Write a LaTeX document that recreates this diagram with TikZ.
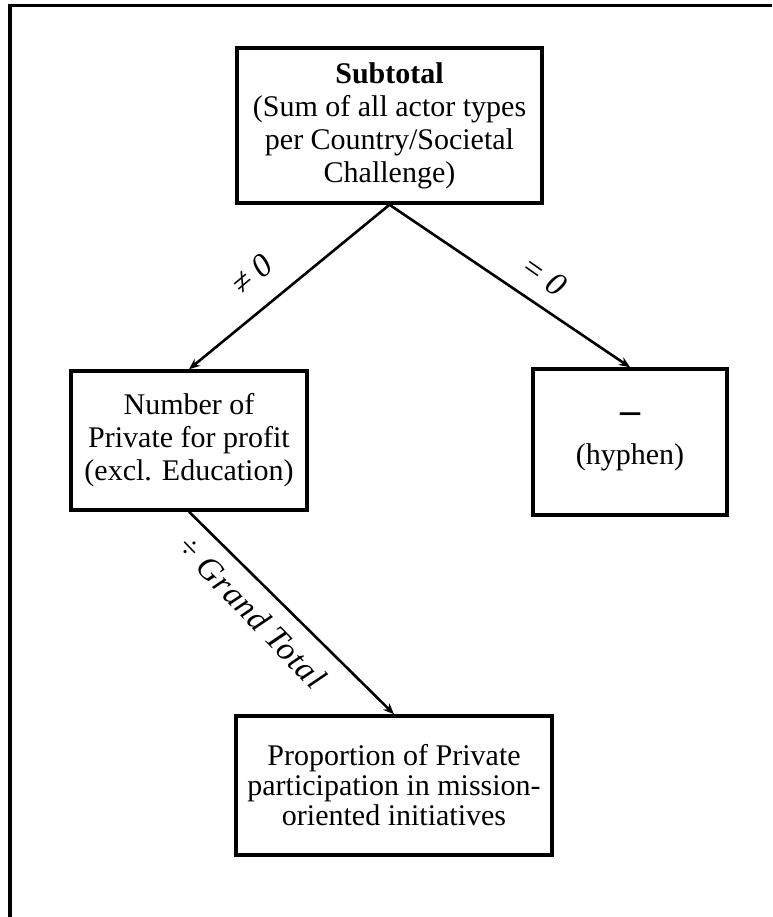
\documentclass[tikz,border=0pt]{standalone}
\usepackage{fontspec}
\setmainfont{Liberation Serif}
\usetikzlibrary{arrows.meta}
\tikzset{
  box/.style={draw=black, line width=3.5pt, align=center, inner sep=0pt,
    font=\fontsize{30}{33}\selectfont},
  conn/.style={line width=2.6pt, -{Stealth[length=11pt,width=9pt]}},
  lbl/.style={font=\fontsize{33}{33}\selectfont\itshape, inner sep=0pt}
}
\begin{document}
\begin{tikzpicture}[x=1pt,y=1pt]
\useasboundingbox (0,0) rectangle (772,-917);
\fill[white] (0,0) rectangle (772,-917);
% frame
\draw[line width=3.5pt] (772,-5.5) -- (10,-5.5) -- (10,-917);
% nodes
\node[box, minimum width=305pt, minimum height=155pt] (top) at (389.5,-125.5)
  {\textbf{Subtotal}\\(Sum of all actor types\\per Country/Societal\\Challenge)};
\node[box, minimum width=236pt, minimum height=139pt] (left) at (189,-440.5)
  {Number of\\Private for profit\\(excl. Education)};
\node[box, minimum width=194pt, minimum height=146pt] (right) at (630,-442)
  {{\fontsize{40}{33}\selectfont\bfseries –}\\[8pt](hyphen)};
\node[box, minimum width=316pt, minimum height=139pt, font=\fontsize{30}{30}\selectfont] (bottom) at (394,-785.5)
  {Proportion of Private\\participation in mission-\\oriented initiatives};
% connectors
\draw[conn] (top.south) -- (left.north);
\draw[conn] (top.south) -- (right.north);
\draw[conn] (left.south) -- (bottom.north);
% labels
\node[lbl, rotate=40] (ne) at (252,-274) {≠ 0};
\node[lbl, rotate=-35] (eq) at (544,-276) {= 0};
\node[lbl, rotate=-46] (gt) at (252,-612) {\addfontfeatures{LetterSpace=3}÷ Grand Total};
\end{tikzpicture}
\end{document}
